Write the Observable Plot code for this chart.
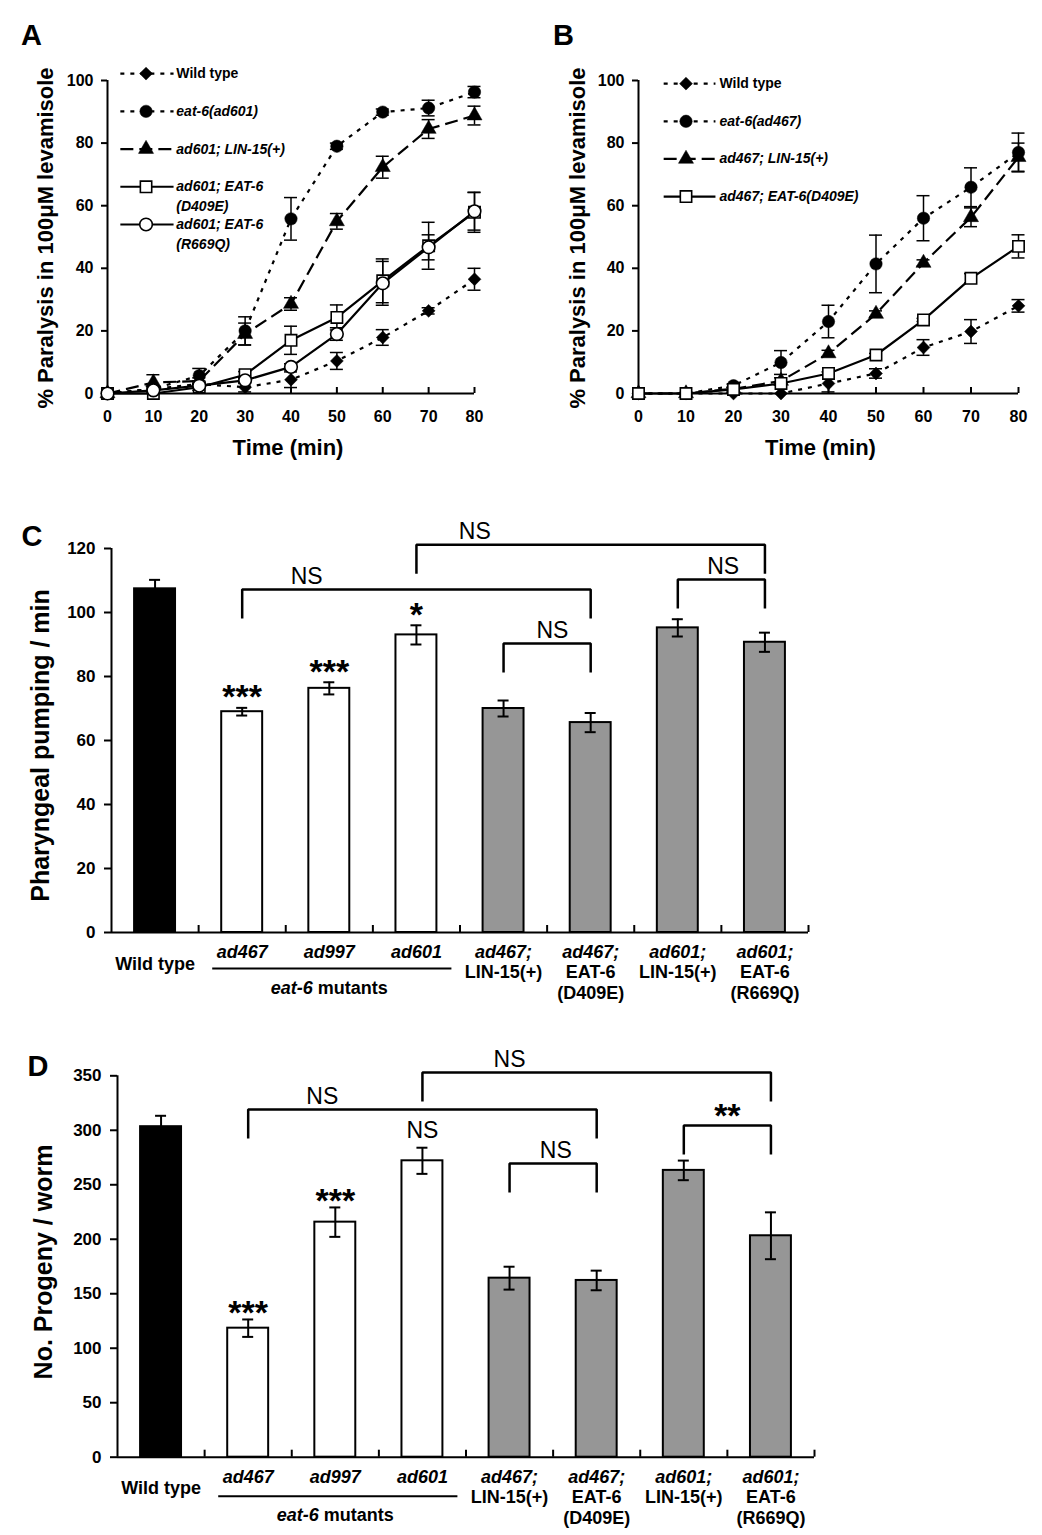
<!DOCTYPE html>
<html>
<head>
<meta charset="utf-8">
<script src="https://cdn.jsdelivr.net/npm/d3@7"></script>
<script src="https://cdn.jsdelivr.net/npm/@observablehq/plot@0.6"></script>
<style>
html,body{margin:0;padding:0;background:#fff;}
#fig{position:relative;width:1042px;height:1535px;background:#fff;overflow:hidden;}
#fig svg{position:absolute;max-width:none;}
</style>
</head>
<body>
<div id="fig"></div>
<script>
// ================= DATA =================
const times = [0, 10, 20, 30, 40, 50, 60, 70, 80];
const timeTicks = [0, 10, 20, 30, 40, 50, 60, 70, 80];
const paralysisTicks = [0, 20, 40, 60, 80, 100];
const paralysisTitle = "% Paralysis in 100\u03BCM levamisole";
const timeTitle = "Time (min)";

// Panel A (eat-6(ad601) background)
const aLabels  = ["Wild type", "eat-6(ad601)", "ad601; LIN-15(+)", "ad601; EAT-6", "ad601; EAT-6"];
const aLabels2 = ["", "", "", "(D409E)", "(R669Q)"];
const aWT       = [0, 1.5, 3, 2, 4.4, 10.4, 17.9, 26.4, 36.5];
const aWTErr    = [0, 0.5, 1, 1.5, 2.5, 2.7, 2.5, 1, 3.5];
const aMut      = [0, 1.5, 5.7, 20, 55.8, 79, 89.9, 91.2, 96.3];
const aMutErr   = [0, 1, 2.3, 4.5, 6.8, 1, 1, 2.5, 1.8];
const aLin      = [0, 3.5, 4, 19, 28.6, 55, 72.3, 84.5, 88.8];
const aLinErr   = [0, 2.5, 1, 3.5, 2, 2.5, 3.5, 3, 3];
const aD409E    = [0, 0, 2, 6, 17, 24.3, 36, 47.2, 57.9];
const aD409EErr = [0, 0, 1, 1, 4.5, 4, 7, 7.5, 6.4];
const aR669Q    = [0, 1, 2.5, 4.2, 8.5, 19, 35.2, 46.7, 58.2];
const aR669QErr = [0, 0.5, 0.5, 1, 1, 2, 7, 4, 6];

// Panel B (eat-6(ad467) background)
const bLabels  = ["Wild type", "eat-6(ad467)", "ad467; LIN-15(+)", "ad467; EAT-6(D409E)"];
const bWT       = [0, 0, 0, 0, 3.2, 6.4, 14.7, 19.8, 28];
const bWTErr    = [0, 0, 0, 0, 2.7, 1.5, 2.5, 3.8, 2];
const bMut      = [0, 0, 2.5, 9.9, 23, 41.4, 56, 65.9, 77];
const bMutErr   = [0, 0, 0.5, 3.8, 5.2, 9.2, 7.2, 6.2, 6.2];
const bLin      = [0, 0, 1.5, 4, 12.8, 25.4, 41.7, 56.3, 75.5];
const bLinErr   = [0, 0, 0.5, 1, 1, 1, 1, 3, 4.5];
const bD409E    = [0, 0, 1.3, 3.2, 6.4, 12.3, 23.5, 36.8, 47];
const bD409EErr = [0, 0, 0.5, 0.5, 0.5, 0.5, 0.5, 1.5, 3.7];

// Panels C & D categories
const categories = ["Wild type", "ad467", "ad997", "ad601", "ad467; LIN-15(+)", "ad467; EAT-6(D409E)", "ad601; LIN-15(+)", "ad601; EAT-6(R669Q)"];
const catGroup   = ["wt", "mutant", "mutant", "mutant", "rescue", "rescue", "rescue", "rescue"];
const catLine1   = ["", "ad467", "ad997", "ad601", "ad467;", "ad467;", "ad601;", "ad601;"];
const catLine2   = ["", "", "", "", "LIN-15(+)", "EAT-6", "LIN-15(+)", "EAT-6"];
const catLine3   = ["", "", "", "", "", "(D409E)", "", "(R669Q)"];
const wildLabel  = "Wild type";
const groupLabel = "eat-6 mutants";
const groupFirst = "ad467", groupMid = "ad997", groupLast = "ad601";

// Panel C: pharyngeal pumping
const pumping      = [107.4, 69.0, 76.3, 93.0, 70.0, 65.6, 95.2, 90.7];
const pumpingErr   = [2.8, 1.2, 1.9, 3.0, 2.5, 3.0, 2.7, 3.0];
const pumpingTicks = [0, 20, 40, 60, 80, 100, 120];
const pumpingTitle = "Pharyngeal pumping / min";
const cBrFrom  = ["ad467", "ad601", "ad467; LIN-15(+)", "ad601; LIN-15(+)"];
const cBrTo    = ["ad467; EAT-6(D409E)", "ad601; EAT-6(R669Q)", "ad467; EAT-6(D409E)", "ad601; EAT-6(R669Q)"];
const cBrLevel = [107.2, 121.2, 90.3, 110.3];
const cBrLabel = ["NS", "NS", "NS", "NS"];
const cSigCat  = ["ad467", "ad997", "ad601"];
const cSigText = ["***", "***", "*"];

// Panel D: progeny
const progeny      = [303.3, 118.4, 215.7, 272.0, 164.3, 162.2, 263.2, 203.2];
const progenyErr   = [10, 8, 13.5, 12, 10.5, 9, 9, 21.5];
const progenyTicks = [0, 50, 100, 150, 200, 250, 300, 350];
const progenyTitle = "No. Progeny / worm";
const dBrFrom  = ["ad467", "ad601", "ad467; LIN-15(+)", "ad601; LIN-15(+)"];
const dBrTo    = ["ad467; EAT-6(D409E)", "ad601; EAT-6(R669Q)", "ad467; EAT-6(D409E)", "ad601; EAT-6(R669Q)"];
const dBrLevel = [319.1, 353.1, 269.6, 304.4];
const dBrLabel = ["NS", "NS", "NS", "**"];
const dSigCat  = ["ad467", "ad997", "ad601"];
const dSigText = ["***", "***", "NS"];

// ================= STYLE / LAYOUT =================
const FONT = '"Liberation Sans", Arial, Helvetica, sans-serif';
const seriesStyle = {
  wt:  {dash: "4,6",  symbol: "diamond2", fill: "black", r: 5.8, sw: 0.5},
  mut: {dash: "4,6",  symbol: "circle",   fill: "black", r: 6.2, sw: 0.5},
  lin: {dash: "13,6", symbol: "triangle", fill: "black", r: 5.6, sw: 0.5},
  sq:  {dash: null,   symbol: "square",   fill: "white", r: 6.4, sw: 1.6},
  oc:  {dash: null,   symbol: "circle",   fill: "white", r: 6.3, sw: 1.6}
};
const groupFill = {wt: "#000000", mutant: "#ffffff", rescue: "#969696"};
const fig = document.getElementById("fig");
function place(svg, left, top) { svg.style.left = left + "px"; svg.style.top = top + "px"; fig.appendChild(svg); }

function linePanel(p) {
  const marks = [];
  marks.push(Plot.ruleX([0], {y1: 0, y2: 100, stroke: "black", strokeWidth: 2}));
  marks.push(Plot.ruleY([0], {x1: 0, x2: 80, stroke: "black", strokeWidth: 2}));
  marks.push(Plot.ruleX(timeTicks.filter(t => t > 0), {y1: 0, y2: 0, insetTop: -6, stroke: "black", strokeWidth: 2}));
  marks.push(Plot.axisY({ticks: paralysisTicks, tickSize: 6, tickPadding: 8, strokeWidth: 2, label: null}));
  marks.push(Plot.axisX({ticks: timeTicks, tickSize: 0, tickPadding: 17, label: null}));
  p.series.forEach(s => {
    const pts = times.map((t, i) => ({t, v: s.v[i], e: s.e[i]})).filter(d => d.e > 0);
    marks.push(Plot.ruleX(pts, {x: "t", y1: d => d.v - d.e, y2: d => d.v + d.e, stroke: "black", strokeWidth: 1.5}));
    for (const sg of [1, -1])
      marks.push(Plot.ruleY(pts, {x1: "t", x2: "t", y: d => d.v + sg * d.e, insetLeft: -6.5, insetRight: -6.5, stroke: "black", strokeWidth: 1.5}));
  });
  p.series.forEach(s => {
    const st = seriesStyle[s.kind];
    const pts = times.map((t, i) => ({t, v: s.v[i]}));
    marks.push(Plot.line(pts, {x: "t", y: "v", stroke: "black", strokeWidth: 2.2, strokeDasharray: st.dash || undefined, strokeLinecap: "butt"}));
  });
  p.series.forEach(s => {
    const st = seriesStyle[s.kind];
    const pts = times.map((t, i) => ({t, v: s.v[i]}));
    marks.push(Plot.dot(pts, {x: "t", y: "v", symbol: st.symbol, r: st.r, fill: st.fill, stroke: "black", strokeWidth: st.sw}));
  });
  p.series.forEach((s, i) => {
    const st = seriesStyle[s.kind];
    const ry = p.leg.y0 - i * p.leg.step;
    marks.push(Plot.line([{x: p.leg.x1, y: ry}, {x: p.leg.x2, y: ry}], {x: "x", y: "y", stroke: "black", strokeWidth: 2.2, strokeDasharray: st.dash || undefined, strokeLinecap: "butt"}));
    marks.push(Plot.dot([{x: p.leg.xm, y: ry}], {x: "x", y: "y", symbol: st.symbol, r: st.r, fill: st.fill, stroke: "black", strokeWidth: st.sw}));
    marks.push(Plot.text([{x: p.leg.xt, y: ry, t: s.label}], {x: "x", y: "y", text: "t", textAnchor: "start", lineAnchor: "middle", fontSize: 14, fontWeight: "bold", fontStyle: s.label === "Wild type" ? "normal" : "italic"}));
    if (s.label2) marks.push(Plot.text([{x: p.leg.xt, y: ry, t: s.label2}], {x: "x", y: "y", text: "t", dy: 20, textAnchor: "start", lineAnchor: "middle", fontSize: 14, fontWeight: "bold", fontStyle: "italic"}));
  });
  marks.push(Plot.text([paralysisTitle], {text: d => d, frameAnchor: "left", dx: p.ytDx, dy: 1, rotate: -90, textAnchor: "middle", lineAnchor: "middle", fontSize: 22, fontWeight: "bold"}));
  marks.push(Plot.text([timeTitle], {text: d => d, frameAnchor: "bottom", dx: p.xtDx, dy: 54, textAnchor: "middle", lineAnchor: "middle", fontSize: 22, fontWeight: "bold"}));
  marks.push(Plot.text([p.letter], {text: d => d, frameAnchor: "top-left", dx: p.letDx, dy: -45, textAnchor: "middle", lineAnchor: "middle", fontSize: 29, fontWeight: "bold"}));
  return Plot.plot({
    width: p.width, height: p.height,
    marginTop: p.mt, marginRight: p.mr, marginBottom: p.mb, marginLeft: p.ml,
    x: {domain: [0, 80]}, y: {domain: [0, 100]},
    style: {fontFamily: FONT, fontSize: "16px", fontWeight: "bold", color: "black", background: "transparent", overflow: "visible"},
    marks
  });
}

function barPanel(p) {
  const width = 1042;
  const fw = width - p.ml - p.mr, fh = p.height - p.mt - p.mb;
  const n = categories.length, step = fw / n, pIn = 0.53, bw = step * (1 - pIn);
  const data = categories.map((c, i) => ({c, v: p.vals[i], e: p.errs[i], g: catGroup[i]}));
  const legU = 29 * p.ymax / fh;
  const marks = [];
  for (const g of Object.keys(groupFill))
    marks.push(Plot.barY(data.filter(d => d.g === g), {x: "c", y: "v", fill: groupFill[g], stroke: "black", strokeWidth: 2}));
  marks.push(Plot.ruleX(data, {x: "c", y1: d => d.v - d.e, y2: d => d.v + d.e, stroke: "black", strokeWidth: 2}));
  const capIn = (bw - 11) / 2;
  for (const sg of [1, -1])
    marks.push(Plot.ruleY(data, {x1: "c", x2: "c", y: d => d.v + sg * d.e, insetLeft: capIn, insetRight: capIn, stroke: "black", strokeWidth: 2}));
  const brPts = [];
  p.br.from.forEach((f, i) => {
    const t = p.br.to[i], L = p.br.level[i];
    brPts.push({id: i, x: f, y: L - legU}, {id: i, x: f, y: L}, {id: i, x: t, y: L}, {id: i, x: t, y: L - legU});
  });
  marks.push(Plot.line(brPts, {x: "x", y: "y", z: "id", stroke: "black", strokeWidth: 2.5, strokeLinejoin: "miter", strokeLinecap: "butt"}));
  p.br.from.forEach((f, i) => {
    const lab = p.br.label[i], ns = lab === "NS";
    marks.push(Plot.text([{x: f, y: p.br.level[i], t: lab}], {x: "x", y: "y", text: "t", dx: p.br.shift[i] * step, dy: ns ? -13 : -9.5, textAnchor: "middle", lineAnchor: "middle", fontSize: ns ? 23 : 34, fontWeight: ns ? "normal" : "bold"}));
  });
  const sig = p.sig.cat.map((c, i) => ({c, t: p.sig.text[i], y: p.vals[categories.indexOf(c)] + p.errs[categories.indexOf(c)]}));
  marks.push(Plot.text(sig.filter(d => d.t !== "NS"), {x: "c", y: "y", text: "t", dy: -p.sig.gap + 8.7, textAnchor: "middle", lineAnchor: "middle", fontSize: 34, fontWeight: "bold"}));
  marks.push(Plot.text(sig.filter(d => d.t === "NS"), {x: "c", y: "y", text: "t", dy: -17, textAnchor: "middle", lineAnchor: "middle", fontSize: 23, fontWeight: "normal"}));
  marks.push(Plot.ruleY([0], {stroke: "black", strokeWidth: 2}));
  marks.push(Plot.ruleX(categories.slice(0, 1), {y1: 0, y2: p.ymax, dx: -step / 2, stroke: "black", strokeWidth: 2}));
  marks.push(Plot.ruleX(categories, {y1: 0, y2: 0, insetTop: -7, dx: step / 2, stroke: "black", strokeWidth: 2}));
  marks.push(Plot.axisY({ticks: p.yticks, tickSize: 7, tickPadding: 9, strokeWidth: 2, label: null}));
  const lab = categories.map((c, i) => ({c, l1: catLine1[i], l2: catLine2[i], l3: catLine3[i]}));
  const tl = {frameAnchor: "bottom", textAnchor: "middle", lineAnchor: "middle", fontSize: 18, fontWeight: "bold"};
  marks.push(Plot.text(lab.filter(d => d.l1), {x: "c", text: "l1", dy: p.rows[0], fontStyle: "italic", ...tl}));
  marks.push(Plot.text(lab.filter(d => d.l2), {x: "c", text: "l2", dy: p.rows[1], ...tl}));
  marks.push(Plot.text(lab.filter(d => d.l3), {x: "c", text: "l3", dy: p.rows[2], ...tl}));
  marks.push(Plot.text([{c: categories[0], t: wildLabel}], {x: "c", text: "t", dy: p.rowWT, ...tl}));
  marks.push(Plot.ruleY([0], {x1: () => groupFirst, x2: () => groupLast, insetLeft: -9, insetRight: -15, dy: p.rowLine, stroke: "black", strokeWidth: 2}));
  marks.push(Plot.text([{c: groupMid, t: groupLabel}], {x: "c", text: "t", dy: p.rowGroup, ...tl}));
  marks.push(Plot.text([p.title], {text: d => d, frameAnchor: "left", dx: p.ytDx, dy: p.ytDy, rotate: -90, textAnchor: "middle", lineAnchor: "middle", fontSize: 25, fontWeight: "bold"}));
  marks.push(Plot.text([p.letter], {text: d => d, frameAnchor: "top-left", dx: -79.5, dy: p.letDy, textAnchor: "middle", lineAnchor: "middle", fontSize: 29, fontWeight: "bold"}));
  const svg = Plot.plot({
    width, height: p.height,
    marginTop: p.mt, marginRight: p.mr, marginBottom: p.mb, marginLeft: p.ml,
    x: {domain: categories, paddingInner: pIn, paddingOuter: pIn / 2, round: false, axis: null},
    y: {domain: [0, p.ymax]},
    style: {fontFamily: FONT, fontSize: "17px", fontWeight: "bold", color: "black", background: "transparent", overflow: "visible"},
    marks
  });
  d3.select(svg).selectAll("text").filter(function () { return this.textContent === groupLabel; }).each(function () {
    const t = d3.select(this); t.text(null);
    t.append("tspan").attr("font-style", "italic").text("eat-6");
    t.append("tspan").text(" mutants");
  });
  return svg;
}

// ================= BUILD =================
const A = linePanel({
  width: 530, height: 470, mt: 80, mr: 56, mb: 77, ml: 107, ytDx: -62, xtDx: -3, letter: "A", letDx: -76,
  leg: {y0: 102.2, step: 12.05, x1: 2.8, x2: 14.4, xm: 8.4, xt: 15},
  series: [
    {kind: "wt",  v: aWT,    e: aWTErr,    label: aLabels[0], label2: aLabels2[0]},
    {kind: "mut", v: aMut,   e: aMutErr,   label: aLabels[1], label2: aLabels2[1]},
    {kind: "lin", v: aLin,   e: aLinErr,   label: aLabels[2], label2: aLabels2[2]},
    {kind: "sq",  v: aD409E, e: aD409EErr, label: aLabels[3], label2: aLabels2[3]},
    {kind: "oc",  v: aR669Q, e: aR669QErr, label: aLabels[4], label2: aLabels2[4]}
  ]
});
place(A, 0, 0);

const B = linePanel({
  width: 512, height: 470, mt: 80, mr: 24, mb: 77, ml: 108, ytDx: -61, xtDx: -8, letter: "B", letDx: -75,
  leg: {y0: 99.0, step: 12.03, x1: 5.3, x2: 16.2, xm: 10.0, xt: 17.05},
  series: [
    {kind: "wt",  v: bWT,    e: bWTErr,    label: bLabels[0]},
    {kind: "mut", v: bMut,   e: bMutErr,   label: bLabels[1]},
    {kind: "lin", v: bLin,   e: bLinErr,   label: bLabels[2]},
    {kind: "sq",  v: bD409E, e: bD409EErr, label: bLabels[3]}
  ]
});
place(B, 530, 0);

const C = barPanel({
  height: 520, mt: 48, mb: 88, ml: 111, mr: 234, ymax: 120, yticks: pumpingTicks,
  vals: pumping, errs: pumpingErr, title: pumpingTitle, ytDx: -71, ytDy: 5, letter: "C", letDy: -12,
  br: {from: cBrFrom, to: cBrTo, level: cBrLevel, label: cBrLabel, shift: [0.74, 0.67, 0.56, 0.52]},
  sig: {cat: cSigCat, text: cSigText, gap: 19},
  rows: [20, 40, 61], rowWT: 32, rowLine: 36, rowGroup: 56
});
place(C, 0, 500);

const D = barPanel({
  height: 515, mt: 55.3, mb: 78.3, ml: 117, mr: 228, ymax: 350, yticks: progenyTicks,
  vals: progeny, errs: progenyErr, title: progenyTitle, ytDx: -74, ytDy: -4.5, letter: "D", letDy: -9.3,
  br: {from: dBrFrom, to: dBrTo, level: dBrLevel, label: dBrLabel, shift: [0.85, 1.0, 0.53, 0.5]},
  sig: {cat: dSigCat, text: dSigText, gap: 15},
  rows: [20, 40, 61], rowWT: 31, rowLine: 39, rowGroup: 58
});
place(D, 0, 1020);
</script>
</body>
</html>
